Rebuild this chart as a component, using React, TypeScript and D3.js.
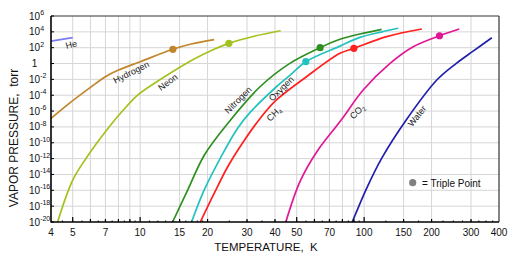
import React, { useEffect, useRef } from "react";
import * as d3 from "d3";

// [temperature K, log10 pressure torr]
const helium: [number, number][] = [[4, 2.84], [5, 3.26]];
const hydrogen: [number, number][] = [
  [4, -6.93], [5, -4.69], [6, -3.01], [7, -1.66], [8, -0.82], [10, 0.23],
  [14, 1.8], [16.9, 2.46], [21.4, 3.02],
];
const neon: [number, number][] = [
  [4.28, -20], [5, -14.72], [5.73, -11.98], [7.28, -7.98], [8.36, -5.96],
  [9.75, -3.98], [12.4, -1.96], [17.5, 0.6], [21.4, 1.8], [24.9, 2.55],
  [32.6, 3.48], [42.4, 4.14],
];
const nitrogen: [number, number][] = [
  [13.96, -20], [16.3, -15.98], [19.3, -11.6], [24.6, -7.56], [34.3, -2.93],
  [46.6, 0.02], [63.6, 2.0], [78, 3.06], [95.7, 3.73], [119.7, 4.32],
];
const oxygen: [number, number][] = [
  [16.97, -20], [19.3, -15.98], [22.97, -11.77], [27.2, -8.19], [30.9, -6.2],
  [40.6, -2.93], [46.6, -1.5], [54.9, 0.23], [78, 2.2], [95.7, 3.3],
  [120, 4.0], [142, 4.45],
];
const methane: [number, number][] = [
  [18.57, -20], [21.4, -16.4], [24.6, -13.03], [28.9, -9.87], [34.6, -6.8],
  [40.6, -4.6], [55.3, -1.66], [78, 1.29], [90, 1.92], [126, 3.4], [181, 4.36],
];
const carbonDioxide: [number, number][] = [
  [44.7, -20], [51.7, -14.9], [61.5, -11.13], [79, -7.13], [99, -3.34],
  [130.5, 0.02], [165.6, 2.12], [217, 3.51], [266, 4.36],
];
const water: [number, number][] = [
  [88.5, -20], [102.6, -15.75], [119.7, -11.97], [153, -7.25], [211, -2.08],
  [258, 0.03], [307.7, 1.6], [371.5, 3.26],
];

const triplePoints: [number, number][] = [
  [14, 1.8], [24.9, 2.55], [63.6, 2.0], [54.9, 0.23], [90, 1.92], [217, 3.51],
];
const tripleColors = ["#c2862a", "#a2c21c", "#2f8f22", "#22c2c0", "#ff1f1f", "#e01898"];

const tempTicks = [4, 5, 7, 10, 15, 20, 30, 40, 50, 70, 100, 150, 200, 300, 400];
const tempGrid = [5, 6, 7, 8, 9, 10, 15, 20, 30, 40, 50, 60, 70, 80, 90, 100, 150, 200, 300];
const tempMajor = [5, 10, 50, 100];
const pressureExps = [6, 4, 2, 0, -2, -4, -6, -8, -10, -12, -14, -16, -18, -20];

const series = [
  { name: "He", data: helium, color: "#7b7bf2", label: [4.93, 2.38], rot: -15 },
  { name: "Hydrogen", data: hydrogen, color: "#c2862a", label: [9.13, -1.11], rot: -27 },
  { name: "Neon", data: neon, color: "#a2c21c", label: [13.3, -2.37], rot: -37 },
  { name: "Nitrogen", data: nitrogen, color: "#2f8f22", label: [27.4, -4.61], rot: -45 },
  { name: "Oxygen", data: oxygen, color: "#22c2c0", label: [42.7, -3.18], rot: -45 },
  { name: "CH|4", data: methane, color: "#ff1f1f", label: [39.6, -6.37], rot: -45 },
  { name: "CO|2", data: carbonDioxide, color: "#e01898", label: [93.2, -6.08], rot: -45 },
  { name: "Water", data: water, color: "#2020aa", label: [172.5, -6.63], rot: -52 },
];

const FONT = "'Liberation Sans', Arial, Helvetica, sans-serif";

function App() {
  const svgRef = useRef<SVGSVGElement | null>(null);

  useEffect(() => {
    drawChart();
  }, []);

  const drawChart = () => {
    const svg = d3.select(svgRef.current);
    svg.selectAll("*").remove();

    const left = 51, right = 499, top = 16, bottom = 222;

    const x = d3.scaleLog().domain([4, 400]).range([left, right]);
    const y = d3.scaleLog().domain([1e-20, 1e6]).range([bottom, top]);
    const py = (e: number) => y(Math.pow(10, e));

    const g = svg.append("g").style("font-family", FONT);

    // grid
    g.selectAll(".vgrid")
      .data(tempGrid)
      .enter()
      .append("line")
      .attr("x1", (d) => x(d))
      .attr("x2", (d) => x(d))
      .attr("y1", top)
      .attr("y2", bottom)
      .attr("stroke", "#d6d6d6")
      .attr("stroke-width", 1);

    g.selectAll(".hgrid")
      .data(pressureExps.slice(1, -1))
      .enter()
      .append("line")
      .attr("x1", left)
      .attr("x2", right)
      .attr("y1", (d) => py(d))
      .attr("y2", (d) => py(d))
      .attr("stroke", "#d6d6d6")
      .attr("stroke-width", 1);

    // curves
    const line = d3
      .line<[number, number]>()
      .x((d) => x(d[0]))
      .y((d) => py(d[1]))
      .curve(d3.curveCatmullRom.alpha(0.5));

    series.forEach((s) => {
      g.append("path")
        .datum(s.data)
        .attr("fill", "none")
        .attr("stroke", s.color)
        .attr("stroke-width", 1.7)
        .attr("d", line);
    });

    g.selectAll(".tp")
      .data(triplePoints)
      .enter()
      .append("circle")
      .attr("cx", (d) => x(d[0]))
      .attr("cy", (d) => py(d[1]))
      .attr("r", 3.6)
      .attr("fill", (d, i) => tripleColors[i]);

    // curve labels
    series.forEach((s) => {
      const lx = x(s.label[0]);
      const ly = py(s.label[1]);
      const t = g
        .append("text")
        .attr("transform", `translate(${lx},${ly}) rotate(${s.rot})`)
        .attr("text-anchor", "middle")
        .attr("dominant-baseline", "central")
        .attr("font-size", 9)
        .attr("fill", "#222");
      const [main, sub] = s.name.split("|");
      t.append("tspan").text(main);
      if (sub) {
        t.append("tspan").attr("font-size", 6).attr("dy", 3).text(sub);
      }
    });

    // frame
    g.append("line")
      .attr("x1", left).attr("x2", right).attr("y1", top).attr("y2", top)
      .attr("stroke", "#333").attr("stroke-width", 1.2);
    g.append("line")
      .attr("x1", right).attr("x2", right).attr("y1", top).attr("y2", bottom)
      .attr("stroke", "#333").attr("stroke-width", 1.2);
    g.append("line")
      .attr("x1", left).attr("x2", left).attr("y1", top).attr("y2", bottom + 0.5)
      .attr("stroke", "#000").attr("stroke-width", 1.6);
    g.append("line")
      .attr("x1", left).attr("x2", right).attr("y1", bottom).attr("y2", bottom)
      .attr("stroke", "#000").attr("stroke-width", 1.6);

    // x ticks (inward)
    const minor = [
      ...d3.range(4.5, 10, 0.5),
      ...d3.range(11, 20, 1),
      ...d3.range(25, 100, 5),
      ...d3.range(125, 400, 25),
    ];
    g.selectAll(".xminor")
      .data(minor)
      .enter()
      .append("line")
      .attr("x1", (d) => x(d)).attr("x2", (d) => x(d))
      .attr("y1", bottom).attr("y2", bottom - 1.5)
      .attr("stroke", "#000").attr("stroke-width", 1);
    g.selectAll(".xtick")
      .data(tempGrid)
      .enter()
      .append("line")
      .attr("x1", (d) => x(d)).attr("x2", (d) => x(d))
      .attr("y1", bottom)
      .attr("y2", (d) => bottom - (tempMajor.includes(d) ? 5 : 3))
      .attr("stroke", "#000").attr("stroke-width", 1.2);

    g.selectAll(".xlabel")
      .data(tempTicks)
      .enter()
      .append("text")
      .attr("x", (d) => x(d))
      .attr("y", bottom + 13.5)
      .attr("text-anchor", "middle")
      .attr("font-size", 10)
      .attr("fill", "#111")
      .text((d) => d);

    // y ticks
    g.selectAll(".ytick")
      .data(pressureExps)
      .enter()
      .append("line")
      .attr("x1", left).attr("x2", left + 3)
      .attr("y1", (d) => py(d)).attr("y2", (d) => py(d))
      .attr("stroke", "#000").attr("stroke-width", 1);

    pressureExps.forEach((e) => {
      const ty = py(e) + 3.5;
      if (e === 0) {
        g.append("text")
          .attr("x", 34.5).attr("y", ty)
          .attr("text-anchor", "middle")
          .attr("font-size", 10).attr("fill", "#111")
          .text("1");
        return;
      }
      const t = g.append("text")
        .attr("x", 29).attr("y", ty)
        .attr("font-size", 10).attr("fill", "#111");
      t.append("tspan").text("10");
      t.append("tspan").attr("font-size", 7).attr("dy", -4.5).text(e);
    });

    // axis titles
    g.append("text")
      .attr("transform", `translate(18,${(top + bottom) / 2 + 19}) rotate(-90)`)
      .attr("text-anchor", "middle")
      .attr("font-size", 12)
      .attr("fill", "#111")
      .style("white-space", "pre")
      .text("VAPOR PRESSURE,  torr");
    g.append("text")
      .attr("x", 266)
      .attr("y", 251)
      .attr("text-anchor", "middle")
      .attr("font-size", 11.5)
      .attr("fill", "#111")
      .style("white-space", "pre")
      .text("TEMPERATURE,  K");

    // legend
    g.append("circle")
      .attr("cx", 412.7).attr("cy", 182.7).attr("r", 3.6)
      .attr("fill", "#808080");
    g.append("text")
      .attr("x", 422).attr("y", 186.5)
      .attr("font-size", 10).attr("fill", "#111")
      .text("= Triple Point");
  };

  return (
    <div>
      <style>{`body{margin:0;background:#fff}`}</style>
      <svg ref={svgRef} width={514} height={263} />
    </div>
  );
}

export default App;
